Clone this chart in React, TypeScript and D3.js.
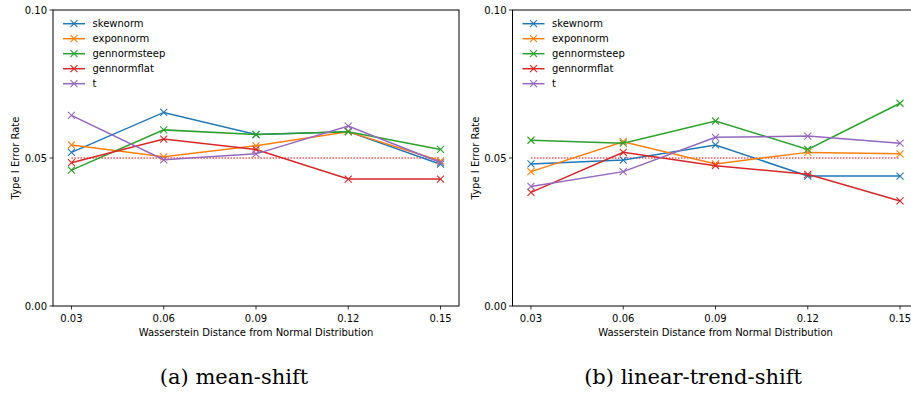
import * as d3 from "d3";

const distances = [0.03, 0.06, 0.09, 0.12, 0.15];
const seriesNames = ["skewnorm", "exponnorm", "gennormsteep", "gennormflat", "t"];
const colors = ["#1f77b4", "#ff7f0e", "#2ca02c", "#d62728", "#9467bd"];
const yTicks = [0.0, 0.05, 0.1];
const alpha = 0.05;

// (a) mean-shift
const meanSkewnorm = [0.0519, 0.0654, 0.0579, 0.0589, 0.0479];
const meanExponnorm = [0.0544, 0.0504, 0.0541, 0.0589, 0.049];
const meanGennormsteep = [0.0459, 0.0595, 0.0579, 0.0589, 0.0529];
const meanGennormflat = [0.0484, 0.0564, 0.0529, 0.0429, 0.0429];
const meanT = [0.0644, 0.0494, 0.0514, 0.0608, 0.0485];

// (b) linear-trend-shift
const trendSkewnorm = [0.048, 0.0493, 0.0544, 0.0439, 0.0439];
const trendExponnorm = [0.0454, 0.0555, 0.048, 0.0519, 0.0514];
const trendGennormsteep = [0.056, 0.055, 0.0625, 0.0529, 0.0685];
const trendGennormflat = [0.0384, 0.0519, 0.0474, 0.0445, 0.0355];
const trendT = [0.0404, 0.0454, 0.057, 0.0574, 0.055];

const panels = [
  {
    caption: "(a) mean-shift",
    left: 53,
    captionX: 234,
    series: [meanSkewnorm, meanExponnorm, meanGennormsteep, meanGennormflat, meanT],
  },
  {
    caption: "(b) linear-trend-shift",
    left: 512.5,
    captionX: 693,
    series: [trendSkewnorm, trendExponnorm, trendGennormsteep, trendGennormflat, trendT],
  },
];

const W = 406;
const TOP = 10;
const BOTTOM = 306;

function Cross({ x, y, color }: { x: number; y: number; color: string }) {
  const s = 3.5;
  return (
    <path
      d={`M${x - s},${y - s}L${x + s},${y + s}M${x - s},${y + s}L${x + s},${y - s}`}
      stroke={color}
      strokeWidth={1.1}
      fill="none"
    />
  );
}

function Panel({ p }: { p: (typeof panels)[number] }) {
  const x = d3.scaleLinear().domain([0.024, 0.156]).range([p.left, p.left + W]);
  const y = d3.scaleLinear().domain([0, 0.1]).range([BOTTOM, TOP]);
  const line = d3
    .line<number>()
    .x((_, i) => x(distances[i]))
    .y((d) => y(d));
  const font = "DejaVu Sans, sans-serif";
  return (
    <g>
      {/* reference line */}
      <line
        x1={x(distances[0])}
        x2={x(distances[distances.length - 1])}
        y1={y(alpha)}
        y2={y(alpha)}
        stroke="red"
        strokeWidth={1}
        strokeDasharray="1.5,1.5"
      />
      {p.series.map((vals, si) => (
        <g key={si}>
          <path d={line(vals) || ""} fill="none" stroke={colors[si]} strokeWidth={1.5} />
          {vals.map((v, i) => (
            <Cross key={i} x={x(distances[i])} y={y(v)} color={colors[si]} />
          ))}
        </g>
      ))}
      <rect x={p.left} y={TOP} width={W} height={BOTTOM - TOP} fill="none" stroke="black" strokeWidth={1} />
      {distances.map((d) => (
        <g key={d}>
          <line x1={x(d)} x2={x(d)} y1={BOTTOM} y2={BOTTOM + 3.5} stroke="black" strokeWidth={0.8} />
          <text x={x(d)} y={BOTTOM + 15.5} textAnchor="middle" fontSize={10} fontFamily={font}>
            {d.toFixed(2)}
          </text>
        </g>
      ))}
      {yTicks.map((t) => (
        <g key={t}>
          <line x1={p.left - 3.5} x2={p.left} y1={y(t)} y2={y(t)} stroke="black" strokeWidth={0.8} />
          <text x={p.left - 6} y={y(t) + 3.6} textAnchor="end" fontSize={10} fontFamily={font}>
            {t.toFixed(2)}
          </text>
        </g>
      ))}
      <text x={(p.left * 2 + W) / 2} y={335.5} textAnchor="middle" fontSize={10} fontFamily={font}>
        Wasserstein Distance from Normal Distribution
      </text>
      <text
        transform={`translate(${p.left - 34},${(TOP + BOTTOM) / 2}) rotate(-90)`}
        textAnchor="middle"
        fontSize={10}
        fontFamily={font}
      >
        Type I Error Rate
      </text>
      {seriesNames.map((name, i) => {
        const ly = 23.7 + i * 15;
        return (
          <g key={name}>
            <line x1={p.left + 10} x2={p.left + 32} y1={ly} y2={ly} stroke={colors[i]} strokeWidth={1.5} />
            <Cross x={p.left + 21} y={ly} color={colors[i]} />
            <text x={p.left + 39.5} y={ly + 3.6} fontSize={10} fontFamily={font}>
              {name}
            </text>
          </g>
        );
      })}
      <text
        x={p.captionX}
        y={384}
        textAnchor="middle"
        fontSize={21}
        fontFamily="DejaVu Serif, serif"
        fontWeight={300}
      >
        {p.caption}
      </text>
    </g>
  );
}

export default function App() {
  return (
    <svg width={911} height={394} style={{ position: "absolute", left: 0, top: 0, background: "white" }}>
      {panels.map((p) => (
        <Panel key={p.caption} p={p} />
      ))}
    </svg>
  );
}
